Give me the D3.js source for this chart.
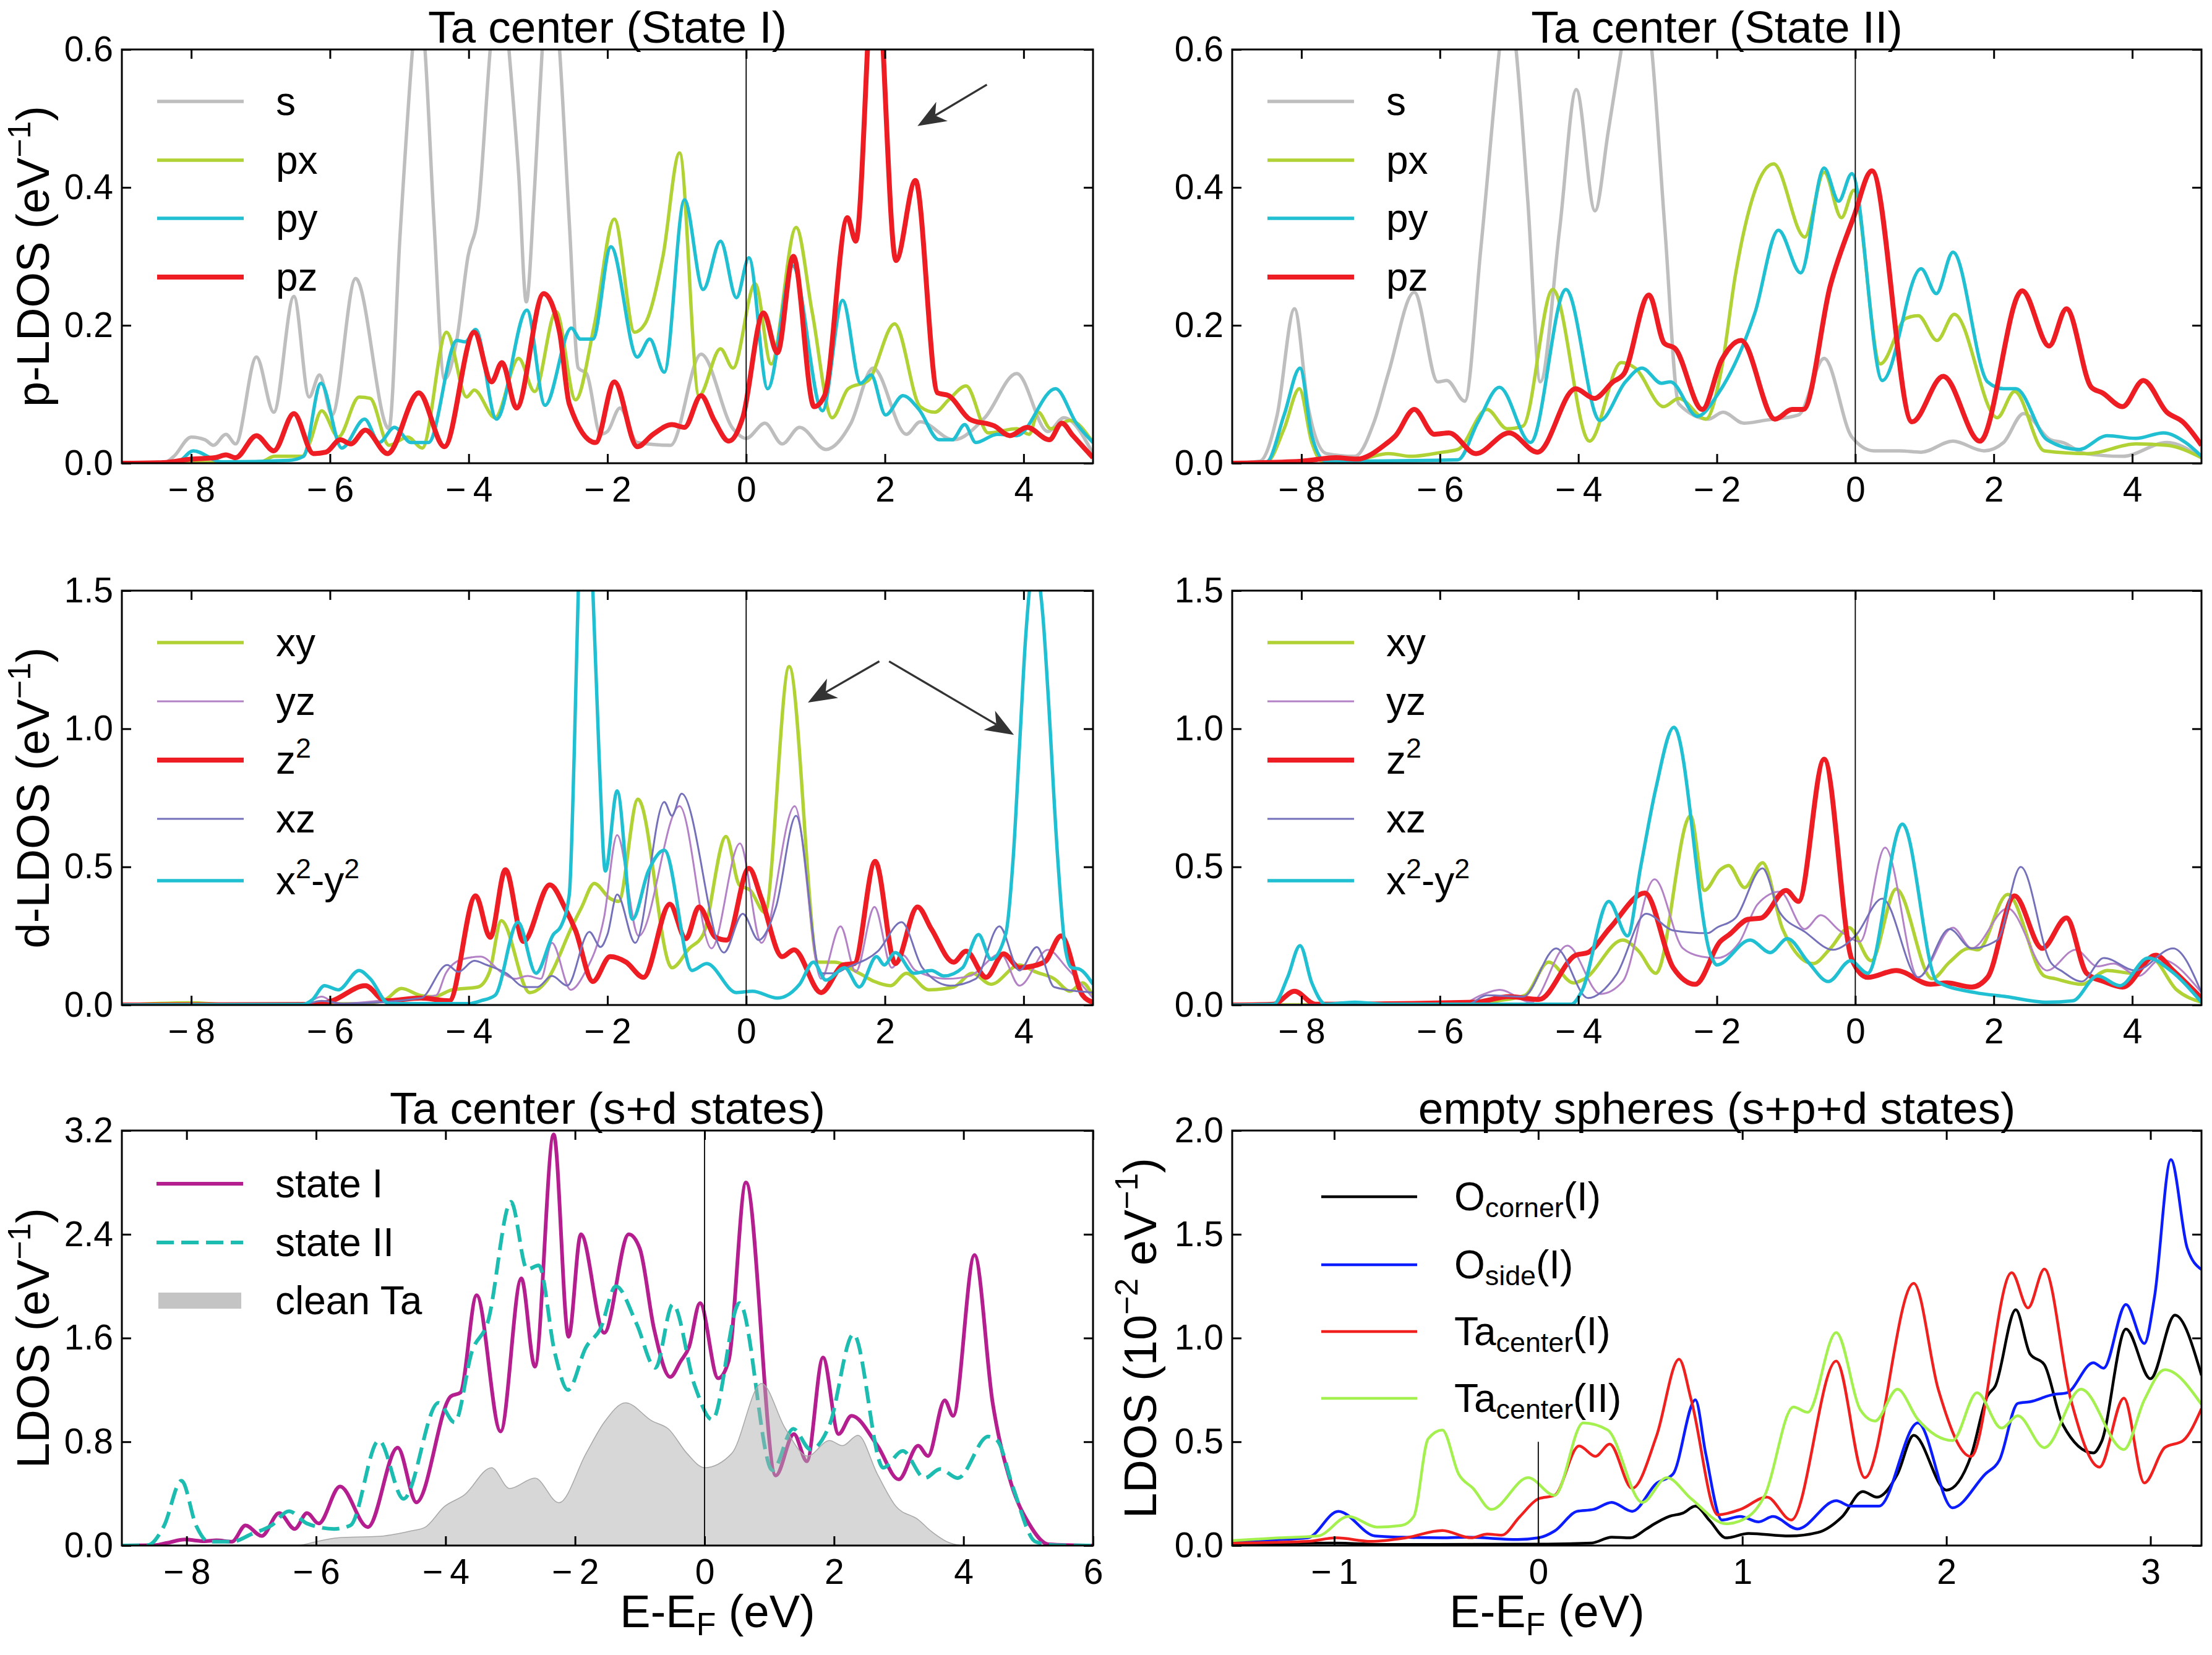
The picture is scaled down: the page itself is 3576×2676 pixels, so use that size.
<!DOCTYPE html>
<html>
<head>
<meta charset="utf-8">
<script src="https://cdn.jsdelivr.net/npm/d3@7/dist/d3.min.js"></script>
<style>
body { margin: 0; background: #fff; }
text { font-family: 'Liberation Sans', Arial, sans-serif; fill: #000; }
</style>
</head>
<body>
<div id="chart"></div>
<script>
// ---- p-LDOS, Ta center, state I  [E (eV), LDOS]
var pS1 = [[-9,0],[-8.4,0],[-8.25,0.01],[-8.0,0.038],[-7.8,0.034],[-7.68,0.026],[-7.5,0.042],[-7.36,0.028],[-7.06,0.154],[-6.81,0.074],[-6.52,0.242],[-6.3,0.096],[-6.15,0.128],[-5.97,0.07],[-5.63,0.268],[-5.15,0.05],[-4.99,0.33],[-4.81,0.6],[-4.72,0.7],[-4.63,0.6],[-4.5,0.35],[-4.35,0.122],[-4.17,0.18],[-4.01,0.3],[-3.87,0.358],[-3.69,0.6],[-3.55,0.75],[-3.42,0.6],[-3.28,0.42],[-3.17,0.234],[-3.05,0.4],[-2.94,0.6],[-2.82,0.75],[-2.69,0.6],[-2.55,0.35],[-2.42,0.138],[-2.3,0.13],[-2.1,0.042],[-2.0,0.046],[-1.82,0.08],[-1.57,0.03],[-1.09,0.026],[-0.65,0.158],[-0.19,0.05],[0,0.036],[0.27,0.058],[0.52,0.028],[0.77,0.052],[1.15,0.02],[1.51,0.058],[1.83,0.138],[2.31,0.042],[2.51,0.06],[2.99,0.034],[3.44,0.066],[3.9,0.13],[4.35,0.046],[4.58,0.066],[5,0.014]];
var pX1 = [[-9,0],[-7.0,0.002],[-6.8,0.01],[-6.4,0.01],[-6.29,0.03],[-6.12,0.076],[-5.88,0.038],[-5.58,0.096],[-5.42,0.094],[-5.15,0.026],[-4.88,0.038],[-4.67,0.022],[-4.32,0.19],[-4.03,0.096],[-3.92,0.106],[-3.62,0.066],[-3.28,0.152],[-3.05,0.104],[-2.74,0.22],[-2.46,0.092],[-2.19,0.2],[-1.9,0.354],[-1.61,0.19],[-1.46,0.202],[-1.2,0.3],[-0.96,0.45],[-0.68,0.098],[-0.37,0.166],[-0.19,0.138],[0.13,0.26],[0.36,0.144],[0.72,0.342],[0.95,0.22],[1.24,0.066],[1.47,0.108],[1.76,0.12],[2.14,0.202],[2.51,0.082],[2.72,0.074],[2.92,0.092],[3.17,0.112],[3.49,0.044],[3.9,0.05],[4.08,0.042],[4.21,0.074],[4.39,0.05],[4.67,0.062],[5,0.03]];
var pY1 = [[-9,0],[-8.2,0.002],[-7.97,0.018],[-7.56,0.002],[-6.6,0.004],[-6.38,0.01],[-6.13,0.116],[-5.83,0.022],[-5.5,0.064],[-5.29,0.03],[-5.07,0.052],[-4.83,0.03],[-4.58,0.03],[-4.17,0.178],[-4.05,0.176],[-3.9,0.194],[-3.6,0.064],[-3.16,0.222],[-2.9,0.084],[-2.52,0.196],[-2.39,0.18],[-2.21,0.18],[-1.95,0.314],[-1.57,0.154],[-1.39,0.18],[-1.18,0.132],[-0.89,0.382],[-0.62,0.252],[-0.37,0.322],[-0.14,0.24],[0.04,0.298],[0.31,0.108],[0.67,0.286],[1.1,0.076],[1.39,0.236],[1.65,0.116],[1.8,0.128],[2.01,0.07],[2.26,0.098],[2.49,0.078],[2.78,0.034],[2.97,0.034],[3.15,0.056],[3.31,0.03],[3.62,0.042],[3.9,0.04],[4.46,0.108],[4.76,0.058],[5,0.03]];
var pZ1 = [[-9,0],[-8.4,0.001],[-8.0,0.006],[-7.66,0.008],[-7.5,0.012],[-7.36,0.008],[-7.06,0.04],[-6.81,0.018],[-6.52,0.072],[-6.24,0.014],[-6.06,0.016],[-5.85,0.034],[-5.7,0.028],[-5.49,0.048],[-5.17,0.014],[-4.72,0.102],[-4.35,0.024],[-3.92,0.19],[-3.67,0.118],[-3.52,0.146],[-3.31,0.08],[-2.92,0.246],[-2.69,0.19],[-2.55,0.086],[-2.17,0.03],[-1.9,0.118],[-1.57,0.024],[-1.34,0.042],[-1.07,0.056],[-0.89,0.052],[-0.65,0.098],[-0.46,0.062],[-0.25,0.032],[-0.05,0.066],[0.25,0.218],[0.45,0.16],[0.68,0.3],[0.98,0.082],[1.13,0.098],[1.46,0.356],[1.58,0.322],[1.86,0.75],[2.16,0.294],[2.44,0.41],[2.76,0.102],[2.92,0.098],[3.22,0.064],[3.58,0.054],[3.8,0.04],[4.05,0.052],[4.37,0.034],[4.55,0.058],[4.71,0.04],[5,0.008]];

// ---- p-LDOS, Ta center, state II
var pS2 = [[-9,0],[-8.6,0.003],[-8.35,0.07],[-8.1,0.224],[-7.9,0.08],[-7.64,0.014],[-7.23,0.01],[-6.95,0.06],[-6.74,0.132],[-6.37,0.248],[-6.03,0.118],[-5.9,0.12],[-5.64,0.09],[-5.41,0.31],[-5.14,0.6],[-5.03,0.7],[-4.9,0.6],[-4.73,0.38],[-4.55,0.118],[-4.27,0.34],[-4.03,0.542],[-3.76,0.366],[-3.57,0.48],[-3.38,0.6],[-3.16,0.75],[-2.94,0.6],[-2.75,0.34],[-2.55,0.086],[-2.12,0.064],[-1.91,0.074],[-1.61,0.058],[-1.32,0.062],[-0.82,0.07],[-0.45,0.152],[-0.05,0.038],[0.27,0.018],[0.64,0.018],[0.95,0.016],[1.41,0.032],[1.86,0.018],[2.14,0.03],[2.43,0.072],[2.82,0.034],[3.0,0.03],[3.32,0.014],[3.86,0.01],[4.5,0.03],[5,0.008]];
var pX2 = [[-9,0],[-8.5,0.002],[-8.25,0.05],[-8.03,0.108],[-7.85,0.03],[-7.7,0.003],[-7.2,0.005],[-6.74,0.014],[-6.42,0.01],[-5.96,0.016],[-5.74,0.02],[-5.32,0.078],[-5.03,0.05],[-4.8,0.054],[-4.37,0.252],[-3.84,0.032],[-3.38,0.146],[-3.18,0.138],[-2.77,0.082],[-2.55,0.094],[-2.16,0.064],[-1.93,0.138],[-1.73,0.274],[-1.18,0.434],[-0.73,0.328],[-0.45,0.422],[-0.2,0.356],[-0.02,0.396],[0.36,0.144],[0.73,0.21],[0.91,0.214],[1.18,0.178],[1.43,0.216],[2.05,0.066],[2.3,0.104],[2.73,0.018],[3.36,0.014],[4.05,0.028],[4.5,0.026],[5,0.008]];
var pY2 = [[-9,0],[-8.5,0.002],[-8.25,0.07],[-8.02,0.138],[-7.85,0.04],[-7.65,0.003],[-5.74,0.005],[-5.45,0.06],[-5.14,0.11],[-4.69,0.03],[-4.18,0.252],[-3.69,0.062],[-3.32,0.118],[-3.08,0.138],[-2.8,0.116],[-2.67,0.118],[-2.28,0.068],[-2.0,0.098],[-1.45,0.218],[-1.11,0.338],[-0.79,0.276],[-0.45,0.428],[-0.24,0.38],[-0.05,0.42],[0.39,0.12],[0.95,0.282],[1.17,0.246],[1.41,0.306],[1.91,0.118],[2.14,0.108],[2.32,0.108],[2.77,0.034],[3.23,0.02],[3.64,0.04],[4.05,0.036],[4.45,0.044],[4.77,0.03],[5,0.01]];
var pZ2 = [[-9,0],[-8.0,0.003],[-7.5,0.008],[-7.2,0.006],[-6.78,0.028],[-6.64,0.04],[-6.37,0.078],[-6.08,0.042],[-5.87,0.044],[-5.48,0.014],[-5.0,0.044],[-4.59,0.016],[-4.04,0.108],[-3.77,0.094],[-3.5,0.118],[-3.34,0.13],[-2.98,0.244],[-2.76,0.174],[-2.6,0.166],[-2.21,0.078],[-1.93,0.15],[-1.65,0.178],[-1.16,0.064],[-0.91,0.078],[-0.75,0.078],[-0.36,0.258],[-0.02,0.358],[0.24,0.424],[0.82,0.06],[1.27,0.126],[1.8,0.032],[2.41,0.25],[2.8,0.17],[3.05,0.224],[3.41,0.11],[3.57,0.102],[3.86,0.082],[4.16,0.12],[4.5,0.074],[4.73,0.06],[5,0.026]];

// ---- d-LDOS, state I
var dXY1 = [[-9,0],[-8.0,0.008],[-7.5,0.002],[-5.5,0.005],[-5.2,0.02],[-4.97,0.06],[-4.7,0.035],[-4.5,0.03],[-4.24,0.055],[-3.87,0.065],[-3.7,0.12],[-3.53,0.305],[-3.12,0.045],[-2.87,0.09],[-2.51,0.285],[-2.37,0.355],[-2.19,0.44],[-1.96,0.385],[-1.84,0.375],[-1.56,0.745],[-1.07,0.135],[-0.82,0.205],[-0.62,0.255],[-0.29,0.61],[-0.1,0.435],[0.06,0.415],[0.27,0.335],[0.62,1.225],[1.04,0.155],[1.27,0.155],[1.63,0.115],[1.85,0.085],[2.08,0.07],[2.31,0.115],[2.63,0.055],[2.99,0.065],[3.26,0.115],[3.53,0.075],[3.94,0.145],[4.17,0.12],[4.44,0.095],[4.67,0.05],[4.85,0.08],[5,0.03]];
var dYZ1 = [[-9,0],[-6.4,0.002],[-6.12,0.03],[-5.9,0.005],[-5.1,0.02],[-4.47,0.035],[-4.33,0.115],[-4.1,0.165],[-3.83,0.175],[-3.51,0.115],[-3.33,0.095],[-3.15,0.105],[-2.96,0.095],[-2.8,0.225],[-2.53,0.055],[-2.33,0.115],[-2.05,0.315],[-1.86,0.615],[-1.55,0.25],[-0.96,0.72],[-0.5,0.205],[-0.09,0.585],[0.22,0.225],[0.7,0.72],[1.08,0.095],[1.36,0.285],[1.58,0.12],[1.85,0.355],[2.1,0.135],[2.26,0.18],[2.44,0.125],[2.9,0.095],[3.22,0.105],[3.67,0.185],[3.94,0.07],[4.35,0.2],[4.62,0.135],[5,0.025]];
var dZ21 = [[-9,0],[-6.2,0.002],[-5.97,0.015],[-5.49,0.07],[-5.2,0.015],[-4.69,0.025],[-4.28,0.015],[-3.9,0.395],[-3.69,0.245],[-3.47,0.49],[-3.21,0.23],[-2.83,0.435],[-2.6,0.345],[-2.46,0.27],[-2.21,0.085],[-1.96,0.175],[-1.73,0.155],[-1.48,0.1],[-1.1,0.365],[-0.87,0.24],[-0.68,0.355],[-0.44,0.245],[-0.28,0.235],[0.04,0.495],[0.22,0.385],[0.52,0.175],[0.69,0.2],[1.08,0.045],[1.4,0.145],[1.56,0.15],[1.86,0.52],[2.15,0.15],[2.47,0.355],[2.67,0.275],[2.99,0.155],[3.17,0.195],[3.46,0.1],[3.71,0.185],[3.94,0.135],[4.3,0.155],[4.54,0.25],[4.85,0.035],[5,0.01]];
var dXZ1 = [[-9,0],[-6.4,0.002],[-6.12,0.015],[-5.8,0.005],[-4.69,0.025],[-4.31,0.145],[-4.15,0.12],[-3.92,0.16],[-3.74,0.145],[-3.46,0.115],[-3.19,0.065],[-3.01,0.065],[-2.8,0.105],[-2.58,0.07],[-2.26,0.265],[-2.1,0.21],[-2.0,0.255],[-1.86,0.4],[-1.6,0.225],[-1.18,0.735],[-1.07,0.685],[-0.93,0.765],[-0.32,0.19],[-0.05,0.33],[0.18,0.235],[0.43,0.355],[0.72,0.685],[1.08,0.115],[1.27,0.115],[1.45,0.135],[1.9,0.195],[2.24,0.3],[2.54,0.135],[2.94,0.07],[3.31,0.095],[3.65,0.285],[3.94,0.125],[4.19,0.21],[4.44,0.065],[5,0.045]];
var dX21 = [[-9,0],[-6.4,0.002],[-6.25,0.02],[-6.08,0.07],[-5.88,0.055],[-5.58,0.125],[-5.42,0.095],[-5.15,0.005],[-4.0,0.005],[-3.83,0.015],[-3.62,0.035],[-3.29,0.3],[-3.03,0.115],[-2.78,0.255],[-2.67,0.285],[-2.55,0.4],[-2.48,0.9],[-2.42,1.5],[-2.32,2.0],[-2.21,1.5],[-2.12,0.9],[-2.03,0.485],[-1.86,0.775],[-1.64,0.31],[-1.41,0.485],[-1.18,0.56],[-0.78,0.125],[-0.57,0.15],[-0.14,0.045],[0.09,0.05],[0.45,0.025],[0.77,0.075],[0.97,0.155],[1.15,0.09],[1.42,0.135],[1.63,0.065],[1.88,0.175],[1.99,0.145],[2.15,0.19],[2.42,0.115],[2.67,0.125],[2.85,0.105],[3.12,0.135],[3.35,0.255],[3.53,0.165],[3.74,0.255],[3.85,0.535],[3.94,0.935],[4.03,1.335],[4.15,1.6],[4.28,1.4],[4.35,1.135],[4.49,0.535],[4.6,0.205],[4.69,0.135],[4.8,0.13],[5,0.075]];

// ---- d-LDOS, state II
var dXY2 = [[-9,0],[-5.5,0.003],[-5.18,0.015],[-4.77,0.035],[-4.43,0.155],[-4.07,0.08],[-3.91,0.095],[-3.36,0.235],[-3.13,0.195],[-2.88,0.115],[-2.38,0.685],[-2.18,0.415],[-1.95,0.49],[-1.83,0.505],[-1.6,0.425],[-1.34,0.515],[-1.05,0.275],[-0.61,0.15],[-0.36,0.205],[-0.09,0.28],[0.23,0.16],[0.59,0.42],[1.11,0.095],[1.36,0.155],[1.64,0.205],[1.77,0.2],[2.2,0.4],[2.73,0.105],[2.89,0.095],[3.27,0.075],[3.64,0.125],[4.0,0.115],[4.27,0.17],[4.64,0.055],[5,0.01]];
var dYZ2 = [[-9,0],[-5.7,0.003],[-5.41,0.035],[-5.14,0.055],[-4.68,0.01],[-4.16,0.215],[-3.68,0.04],[-3.36,0.085],[-2.9,0.455],[-2.49,0.205],[-2.22,0.175],[-2.0,0.17],[-1.68,0.225],[-1.41,0.365],[-1.09,0.41],[-0.73,0.275],[-0.5,0.325],[-0.23,0.27],[0.07,0.23],[0.43,0.57],[0.91,0.1],[1.41,0.28],[1.68,0.205],[2.2,0.35],[2.77,0.125],[3.18,0.2],[3.5,0.14],[3.73,0.15],[4.09,0.105],[4.41,0.165],[5,0.045]];
var dZ22 = [[-9,0],[-8.4,0.003],[-8.1,0.05],[-7.8,0.003],[-5.5,0.01],[-5.0,0.03],[-4.57,0.02],[-4.04,0.18],[-3.86,0.19],[-3.54,0.28],[-3.04,0.405],[-2.63,0.135],[-2.31,0.075],[-1.95,0.23],[-1.82,0.255],[-1.55,0.31],[-1.36,0.315],[-1.0,0.415],[-0.82,0.375],[-0.45,0.89],[-0.05,0.165],[0.18,0.1],[0.59,0.125],[1.09,0.075],[1.32,0.08],[1.68,0.065],[1.91,0.1],[2.3,0.395],[2.7,0.205],[3.05,0.315],[3.34,0.115],[3.59,0.085],[3.86,0.065],[4.34,0.18],[4.59,0.125],[5,0.025]];
var dXZ2 = [[-9,0],[-5.6,0.003],[-5.32,0.035],[-4.8,0.03],[-4.32,0.205],[-3.86,0.025],[-3.45,0.11],[-3.02,0.33],[-2.63,0.27],[-2.13,0.26],[-2.0,0.28],[-1.73,0.315],[-1.34,0.495],[-1.09,0.335],[-0.73,0.265],[-0.32,0.2],[0.0,0.25],[0.39,0.385],[0.91,0.1],[1.36,0.275],[1.68,0.205],[2.05,0.235],[2.39,0.5],[2.82,0.155],[3.0,0.12],[3.27,0.085],[3.59,0.17],[4.05,0.125],[4.59,0.205],[5,0.045]];
var dX22 = [[-9,0],[-8.4,0.003],[-8.2,0.1],[-8.02,0.215],[-7.85,0.08],[-7.65,0.003],[-7.23,0.01],[-6.8,0.003],[-4.1,0.003],[-3.95,0.05],[-3.56,0.375],[-3.29,0.25],[-3.1,0.5],[-2.88,0.785],[-2.62,1.005],[-2.08,0.175],[-2.0,0.145],[-1.52,0.235],[-1.23,0.19],[-0.98,0.24],[-0.68,0.155],[-0.39,0.085],[-0.07,0.16],[0.18,0.115],[0.68,0.655],[1.18,0.085],[1.73,0.045],[2.18,0.03],[2.77,0.01],[3.14,0.015],[3.5,0.105],[3.82,0.07],[4.23,0.17],[4.55,0.125],[5,0.01]];

// ---- total s+d LDOS of the Ta center
var ldosI = [[-9,0],[-8.5,0.002],[-8.3,0.02],[-8.03,0.046],[-7.72,0.033],[-7.54,0.04],[-7.3,0.03],[-7.09,0.155],[-6.84,0.074],[-6.57,0.25],[-6.33,0.128],[-6.14,0.25],[-5.96,0.17],[-5.63,0.455],[-5.2,0.142],[-4.74,0.755],[-4.45,0.333],[-3.92,1.15],[-3.77,1.18],[-3.52,1.93],[-3.15,0.88],[-2.83,2.06],[-2.62,1.38],[-2.33,3.17],[-2.1,1.61],[-1.91,2.4],[-1.55,1.64],[-1.17,2.4],[-1.0,2.29],[-0.78,1.67],[-0.53,1.3],[-0.37,1.42],[-0.24,1.53],[-0.07,1.87],[0.21,1.29],[0.37,1.42],[0.64,2.8],[1.1,0.54],[1.38,0.86],[1.58,0.65],[1.83,1.45],[2.07,0.86],[2.27,1.0],[2.67,0.77],[3.0,0.51],[3.3,0.77],[3.45,0.69],[3.71,1.12],[3.84,1.0],[4.17,2.24],[4.45,1.1],[4.74,0.47],[5.01,0.17],[5.31,0.01],[6,0]];
var ldosII = [[-9,0],[-8.6,0.003],[-8.35,0.15],[-8.08,0.5],[-7.85,0.15],[-7.66,0.03],[-7.3,0.03],[-6.99,0.09],[-6.69,0.155],[-6.42,0.265],[-6.14,0.17],[-5.72,0.128],[-5.47,0.155],[-5.03,0.81],[-4.65,0.36],[-4.11,1.1],[-3.86,0.95],[-3.59,1.5],[-3.35,1.72],[-2.99,2.65],[-2.74,2.13],[-2.56,2.16],[-2.31,1.48],[-2.11,1.2],[-1.83,1.53],[-1.61,1.67],[-1.37,2.0],[-1.05,1.71],[-0.76,1.37],[-0.49,1.86],[-0.15,1.23],[0.12,0.97],[0.54,1.87],[1.05,0.58],[1.37,0.9],[1.64,0.74],[1.93,0.93],[2.3,1.63],[2.76,0.6],[3.06,0.73],[3.4,0.52],[3.64,0.59],[3.91,0.52],[4.38,0.84],[4.52,0.81],[4.77,0.44],[5.11,0.03],[5.4,0.002],[6,0]];
var ldosClean = [[-9,0],[-6.3,0],[-6.0,0.03],[-5.66,0.06],[-5.05,0.07],[-4.56,0.11],[-4.32,0.14],[-4.02,0.3],[-3.71,0.39],[-3.29,0.6],[-3.01,0.44],[-2.62,0.52],[-2.25,0.33],[-1.83,0.71],[-1.55,0.95],[-1.22,1.1],[-0.81,0.96],[-0.56,0.9],[-0.27,0.71],[0,0.6],[0.42,0.71],[0.88,1.25],[1.25,0.9],[1.59,0.69],[1.93,0.81],[2.13,0.77],[2.37,0.85],[2.67,0.55],[2.96,0.3],[3.3,0.2],[3.5,0.11],[3.79,0.02],[4.0,0],[6,0]];

// ---- empty spheres, s+p+d (10^-2 eV^-1)
var esCorner = [[-1.5,0.005],[-1.0,0.012],[-0.75,0.005],[0,0.007],[0.26,0.012],[0.36,0.04],[0.45,0.037],[0.53,0.08],[0.57,0.105],[0.64,0.14],[0.71,0.157],[0.77,0.19],[0.84,0.12],[0.92,0.037],[1.03,0.058],[1.23,0.046],[1.37,0.063],[1.49,0.14],[1.59,0.26],[1.66,0.233],[1.76,0.344],[1.84,0.531],[2.0,0.267],[2.12,0.43],[2.2,0.719],[2.24,0.77],[2.34,1.136],[2.41,0.923],[2.48,0.872],[2.57,0.583],[2.72,0.446],[2.76,0.5],[2.88,1.043],[3.0,0.804],[3.12,1.11],[3.25,0.82]];
var esSide = [[-1.5,0.02],[-1.13,0.037],[-0.98,0.165],[-0.8,0.046],[-0.67,0.04],[-0.47,0.037],[-0.35,0.04],[-0.1,0.029],[0,0.037],[0.08,0.07],[0.19,0.165],[0.27,0.174],[0.36,0.208],[0.46,0.165],[0.58,0.3],[0.66,0.344],[0.77,0.702],[0.82,0.446],[0.9,0.123],[0.99,0.14],[1.08,0.114],[1.15,0.14],[1.27,0.08],[1.46,0.216],[1.53,0.19],[1.67,0.19],[1.86,0.591],[2.03,0.182],[2.19,0.344],[2.26,0.412],[2.35,0.685],[2.41,0.693],[2.52,0.727],[2.59,0.736],[2.72,0.881],[2.77,0.855],[2.88,1.162],[2.97,0.974],[3.02,1.2],[3.1,1.86],[3.18,1.434],[3.25,1.33]];
var esTaI = [[-1.5,0.012],[-1.13,0.02],[-0.99,0.037],[-0.82,0.02],[-0.65,0.037],[-0.47,0.072],[-0.33,0.037],[-0.25,0.055],[-0.18,0.05],[-0.09,0.14],[0,0.225],[0.08,0.242],[0.2,0.48],[0.28,0.43],[0.35,0.489],[0.46,0.276],[0.58,0.53],[0.69,0.898],[0.75,0.7],[0.88,0.148],[0.99,0.174],[1.12,0.233],[1.24,0.123],[1.46,0.889],[1.6,0.327],[1.84,1.264],[1.96,0.753],[2.12,0.429],[2.32,1.315],[2.4,1.145],[2.48,1.332],[2.61,0.702],[2.75,0.378],[2.87,0.71],[2.97,0.302],[3.07,0.472],[3.16,0.506],[3.25,0.66]];
var esTaII = [[-1.5,0.024],[-1.27,0.037],[-1.08,0.046],[-0.93,0.14],[-0.79,0.089],[-0.67,0.097],[-0.61,0.14],[-0.54,0.514],[-0.47,0.557],[-0.39,0.344],[-0.32,0.276],[-0.23,0.174],[-0.05,0.327],[0.08,0.242],[0.22,0.591],[0.34,0.557],[0.51,0.208],[0.63,0.327],[0.75,0.225],[0.92,0.105],[1.03,0.14],[1.11,0.242],[1.25,0.668],[1.32,0.642],[1.46,1.026],[1.58,0.651],[1.65,0.6],[1.76,0.753],[1.86,0.608],[2.03,0.506],[2.15,0.736],[2.27,0.566],[2.35,0.625],[2.48,0.472],[2.66,0.753],[2.87,0.463],[2.97,0.702],[3.07,0.847],[3.25,0.68]];

// ticks
var ticksE = [-8, -6, -4, -2, 0, 2, 4];
var ticksE6 = [-8, -6, -4, -2, 0, 2, 4, 6];
var ticksEs = [-1, 0, 1, 2, 3];
var ticksP = [0, 0.2, 0.4, 0.6];
var ticksD = [0, 0.5, 1.0, 1.5];
var ticksL = [0, 0.8, 1.6, 2.4, 3.2];
var ticksEsY = [0, 0.5, 1.0, 1.5, 2.0];

// arrow annotations [from, to] in data units
var arrowsP1 = [[[3.47, 0.549], [2.47, 0.489]]];
var arrowsD1 = [[[1.92, 1.244], [0.89, 1.095]], [[2.06, 1.244], [3.86, 0.978]]];

var FONT = "'Liberation Sans', Arial, sans-serif";
var W = 3576, H = 2676;
var svg = d3.select('#chart').append('svg').attr('width', W).attr('height', H);
svg.append('rect').attr('width', W).attr('height', H).attr('fill', '#fff');

var cols = [{x0: 197, x1: 1767}, {x0: 1992, x1: 3559}];
var rows = [{y0: 80, y1: 749}, {y0: 955, y1: 1625}, {y0: 1828, y1: 2499}];
var clipN = 0;

function fmtE(v) { return v < 0 ? '\u2212\u2009' + (-v) : String(v); }

// text with super/subscripts: parts = [[str, 'sup'|'sub'|null], ...]
function rich(sel, parts, size) {
    var cur = 0;
    parts.forEach(p => {
        var s = p[1] === 'sup' ? -0.4 * size : p[1] === 'sub' ? 0.17 * size : 0;
        var t = sel.append('tspan').text(p[0]).attr('dy', s - cur);
        if (p[1]) t.attr('font-size', size * 0.7);
        cur = s;
    });
}

function panel(o) {
    var b = o.box;
    var x = d3.scaleLinear().domain(o.xDomain).range([b.x0, b.x1]);
    var y = d3.scaleLinear().domain(o.yDomain).range([b.y1, b.y0]);
    var g = svg.append('g');
    var id = 'clip' + (clipN++);
    svg.append('clipPath').attr('id', id).append('rect')
        .attr('x', b.x0).attr('y', b.y0).attr('width', b.x1 - b.x0).attr('height', b.y1 - b.y0);
    var plot = g.append('g').attr('clip-path', 'url(#' + id + ')');

    var line = d3.line().x(d => x(d[0])).y(d => y(d[1])).curve(d3.curveMonotoneX);
    var area = d3.area().x(d => x(d[0])).y0(y(0)).y1(d => y(d[1])).curve(d3.curveMonotoneX);

    o.series.forEach(s => {
        if (s.area) {
            plot.append('path').datum(s.data).attr('d', area)
                .attr('fill', '#b0b0b0').attr('fill-opacity', 0.5)
                .attr('stroke', '#a8a8a8').attr('stroke-width', 1.5);
        } else {
            plot.append('path').datum(s.data).attr('d', line)
                .attr('fill', 'none').attr('stroke', s.color).attr('stroke-width', s.width)
                .attr('stroke-dasharray', s.dash || null).attr('stroke-linejoin', 'round');
        }
    });

    // Fermi level
    var zTop = o.zeroTop === undefined ? o.yDomain[1] : o.zeroTop;
    plot.append('line').attr('x1', x(0)).attr('x2', x(0)).attr('y1', y(0)).attr('y2', y(zTop))
        .attr('stroke', '#000').attr('stroke-width', 1.8);

    // axes, ticks inward on all four sides
    var axes = [
        [d3.axisBottom(x).tickValues(o.xTicks).tickFormat(fmtE).tickPadding(22), 'translate(0,' + b.y1 + ')'],
        [d3.axisTop(x).tickValues(o.xTicks).tickFormat(''), 'translate(0,' + b.y0 + ')'],
        [d3.axisLeft(y).tickValues(o.yTicks).tickFormat(d3.format('.1f')).tickPadding(14), 'translate(' + b.x0 + ',0)'],
        [d3.axisRight(y).tickValues(o.yTicks).tickFormat(''), 'translate(' + b.x1 + ',0)']
    ];
    axes.forEach(a => {
        var ag = g.append('g').attr('transform', a[1])
            .call(a[0].tickSizeInner(-15).tickSizeOuter(0));
        ag.attr('font-family', FONT).attr('font-size', 57);
        ag.select('.domain').remove();
        ag.selectAll('.tick line').attr('stroke', '#000').attr('stroke-width', 3);
    });

    g.append('rect').attr('x', b.x0).attr('y', b.y0).attr('width', b.x1 - b.x0).attr('height', b.y1 - b.y0)
        .attr('fill', 'none').attr('stroke', '#000').attr('stroke-width', 3);

    if (o.title) {
        g.append('text').attr('x', (b.x0 + b.x1) / 2).attr('y', b.y0 - 11)
            .attr('text-anchor', 'middle').attr('font-size', 73).text(o.title);
    }
    if (o.ylabel) {
        var yl = g.append('text').attr('text-anchor', 'middle').attr('font-size', 74)
            .attr('transform', 'translate(' + o.ylabelX + ',' + (b.y0 + b.y1) / 2 + ') rotate(-90)');
        rich(yl, o.ylabel, 74);
    }
    if (o.xlabel) {
        var xl = g.append('text').attr('text-anchor', 'middle').attr('font-size', 74)
            .attr('x', o.xlabelX).attr('y', 2631);
        rich(xl, o.xlabel, 74);
    }

    // legend
    var L = o.legend;
    o.series.forEach((s, i) => {
        var ry = b.y0 + L.rows[i];
        if (s.area) {
            g.append('rect').attr('x', b.x0 + L.x0 + 3).attr('y', ry - 13).attr('width', L.x1 - L.x0 - 6).attr('height', 26)
                .attr('fill', '#c4c4c4');
        } else {
            g.append('line').attr('x1', b.x0 + L.x0).attr('x2', b.x0 + L.x1).attr('y1', ry).attr('y2', ry)
                .attr('stroke', s.color).attr('stroke-width', s.width).attr('stroke-dasharray', s.dash || null);
        }
        var t = g.append('text').attr('x', b.x0 + L.tx).attr('y', ry + 22).attr('font-size', 64);
        rich(t, s.label, 64);
    });

    // arrows
    (o.arrows || []).forEach(a => {
        var x1 = x(a[0][0]), y1 = y(a[0][1]), x2 = x(a[1][0]), y2 = y(a[1][1]);
        var dx = x2 - x1, dy = y2 - y1, len = Math.hypot(dx, dy);
        var ux = dx / len, uy = dy / len, nx = -uy, ny = ux;
        var hl = 46, hw = 18;
        var bx = x2 - ux * hl, by = y2 - uy * hl;
        var mx = x2 - ux * hl * 0.72, my = y2 - uy * hl * 0.72;
        g.append('line').attr('x1', x1).attr('y1', y1).attr('x2', mx).attr('y2', my)
            .attr('stroke', '#333').attr('stroke-width', 3.4);
        g.append('path')
            .attr('d', 'M' + x2 + ',' + y2 + 'L' + (bx + nx * hw) + ',' + (by + ny * hw) +
                'L' + mx + ',' + my + 'L' + (bx - nx * hw) + ',' + (by - ny * hw) + 'Z')
            .attr('fill', '#333');
    });
}

var cS = '#bebebe', cX = '#b0d235', cY = '#20c0d2', cZ = '#ee1d23', cYZ = '#b381c6', cXZ = '#7470b9';
var legP = {x0: 57, x1: 197, tx: 249, rows: [84, 179, 273, 368]};
var legD = {x0: 57, x1: 197, tx: 249, rows: [84, 179, 274, 369, 469]};
var eVinv = [['p-LDOS (eV', null], ['\u22121', 'sup'], [')', null]];

function pSeries(s, px, py, pz) {
    return [
        {data: s, color: cS, width: 5.5, label: [['s']]},
        {data: px, color: cX, width: 5.5, label: [['px']]},
        {data: py, color: cY, width: 5.5, label: [['py']]},
        {data: pz, color: cZ, width: 8, label: [['pz']]}
    ];
}
function dSeries(xy, yz, z2, xz, x2) {
    return [
        {data: xy, color: cX, width: 5.5, label: [['xy']]},
        {data: yz, color: cYZ, width: 3, label: [['yz']]},
        {data: z2, color: cZ, width: 8, label: [['z'], ['2', 'sup']]},
        {data: xz, color: cXZ, width: 3, label: [['xz']]},
        {data: x2, color: cY, width: 5.5, label: [['x'], ['2', 'sup'], ['-y'], ['2', 'sup']]}
    ];
}

panel({box: {x0: cols[0].x0, x1: cols[0].x1, y0: rows[0].y0, y1: rows[0].y1},
    xDomain: [-9, 5], yDomain: [0, 0.6], xTicks: ticksE, yTicks: ticksP,
    series: pSeries(pS1, pX1, pY1, pZ1), legend: legP, title: 'Ta center (State I)',
    ylabel: eVinv, ylabelX: 79, arrows: arrowsP1});
panel({box: {x0: cols[1].x0, x1: cols[1].x1, y0: rows[0].y0, y1: rows[0].y1},
    xDomain: [-9, 5], yDomain: [0, 0.6], xTicks: ticksE, yTicks: ticksP,
    series: pSeries(pS2, pX2, pY2, pZ2), legend: legP, title: 'Ta center (State II)'});
panel({box: {x0: cols[0].x0, x1: cols[0].x1, y0: rows[1].y0, y1: rows[1].y1},
    xDomain: [-9, 5], yDomain: [0, 1.5], xTicks: ticksE, yTicks: ticksD,
    series: dSeries(dXY1, dYZ1, dZ21, dXZ1, dX21), legend: legD,
    ylabel: [['d-LDOS (eV', null], ['\u22121', 'sup'], [')', null]], ylabelX: 79, arrows: arrowsD1});
panel({box: {x0: cols[1].x0, x1: cols[1].x1, y0: rows[1].y0, y1: rows[1].y1},
    xDomain: [-9, 5], yDomain: [0, 1.5], xTicks: ticksE, yTicks: ticksD,
    series: dSeries(dXY2, dYZ2, dZ22, dXZ2, dX22), legend: legD});
panel({box: {x0: cols[0].x0, x1: cols[0].x1, y0: rows[2].y0, y1: rows[2].y1},
    xDomain: [-9, 6], yDomain: [0, 3.2], xTicks: ticksE6, yTicks: ticksL,
    series: [
        {data: ldosI, color: '#b41e8e', width: 6, label: [['state I']]},
        {data: ldosII, color: '#1cbcb0', width: 6, dash: '28,12', label: [['state II']]},
        {data: ldosClean, area: true, label: [['clean Ta']]}
    ],
    legend: {x0: 56, x1: 196, tx: 248, rows: [86, 181, 275]},
    title: 'Ta center (s+d states)',
    ylabel: [['LDOS (eV', null], ['\u22121', 'sup'], [')', null]], ylabelX: 79,
    xlabel: [['E-E'], ['F', 'sub'], [' (eV)']], xlabelX: 1160});
panel({box: {x0: cols[1].x0, x1: cols[1].x1, y0: rows[2].y0, y1: rows[2].y1},
    xDomain: [-1.5, 3.25], yDomain: [0, 2.0], xTicks: ticksEs, yTicks: ticksEsY, zeroTop: 0.5,
    series: [
        {data: esCorner, color: '#000000', width: 4.5, label: [['O'], ['corner', 'sub'], ['(I)']]},
        {data: esSide, color: '#0b1cff', width: 4.5, label: [['O'], ['side', 'sub'], ['(I)']]},
        {data: esTaI, color: '#f0201f', width: 4.5, label: [['Ta'], ['center', 'sub'], ['(I)']]},
        {data: esTaII, color: '#a3f04f', width: 4.5, label: [['Ta'], ['center', 'sub'], ['(II)']]}
    ],
    legend: {x0: 144, x1: 299, tx: 359, rows: [107, 217, 325, 433]},
    title: 'empty spheres (s+p+d states)',
    ylabel: [['LDOS (10', null], ['\u22122', 'sup'], [' eV', null], ['\u22121', 'sup'], [')', null]], ylabelX: 1869,
    xlabel: [['E-E'], ['F', 'sub'], [' (eV)']], xlabelX: 2501});
</script>
</body>
</html>
